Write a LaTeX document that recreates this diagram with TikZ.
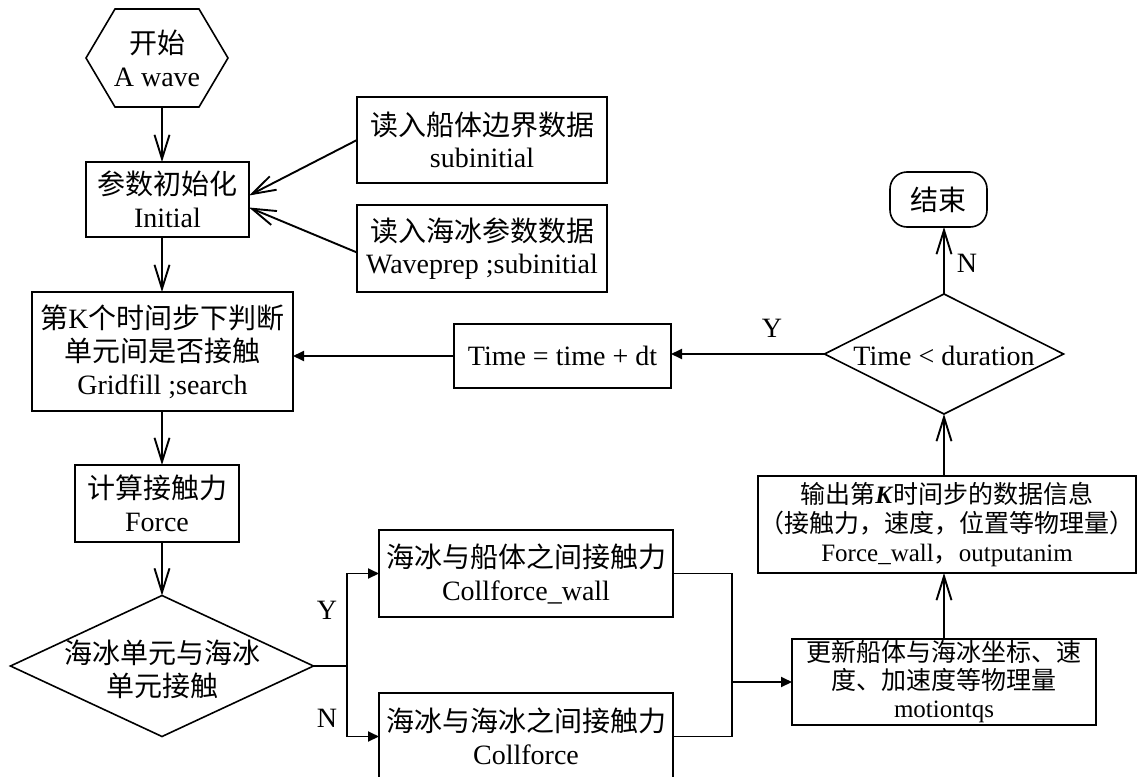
\documentclass[tikz,border=0pt]{standalone}
\usepackage{fontspec}
\setmainfont{Liberation Serif}
\newfontfamily\cjk{Noto Sans CJK SC}
\usetikzlibrary{shapes.geometric,arrows.meta,calc}
\begin{document}
\begin{tikzpicture}[x=1pt,y=-1pt,
  every node/.style={inner sep=0pt, outer sep=0pt},
  box/.style={draw, line width=1.6pt, align=center, font=\fontsize{28}{33}\selectfont},
  txt/.style={align=center, font=\fontsize{28}{33}\selectfont},
  dia/.style={draw, diamond, line width=1.6pt},
  term/.style={draw, line width=1.6pt, rounded corners=17pt, align=center, font=\fontsize{28}{33}\selectfont},
  lab/.style={font=\fontsize{28}{33}\selectfont},
  conn/.style={line width=1.9pt},
  openarr/.style={conn, -{Straight Barb[length=24pt,width=15pt,line width=1.9pt]}},
  fillarr/.style={conn, -{Triangle[length=11pt,width=10pt]}}]
\useasboundingbox (0,0) rectangle (1139,776);

% start hexagon
\node[txt, minimum width=142pt, minimum height=98pt] (start) at (157,58) {{\cjk 开始}\\A wave};
\draw[line width=1.6pt] (start.west) -- ([xshift=29pt]start.north west) -- ([xshift=-29pt]start.north east)
  -- (start.east) -- ([xshift=-29pt]start.south east) -- ([xshift=29pt]start.south west) -- cycle;

\node[box, minimum width=163pt, minimum height=75pt] (init) at (167.5,199.5) {{\cjk 参数初始化}\\Initial};
\node[box, minimum width=250pt, minimum height=86pt, font=\fontsize{28}{32}\selectfont] (sub1) at (482,140) {{\cjk 读入船体边界数据}\\subinitial};
\node[box, minimum width=250pt, minimum height=87pt, font=\fontsize{28}{32}\selectfont] (sub2) at (482,248.5) {{\cjk 读入海冰参数数据}\\Waveprep ;subinitial};
\node[box, minimum width=261pt, minimum height=119pt] (K) at (162.5,351.5) {{\cjk 第}K{\cjk 个时间步下判断}\\{\cjk 单元间是否接触}\\Gridfill ;search};
\node[box, minimum width=164pt, minimum height=77pt] (force) at (157,503.5) {{\cjk 计算接触力}\\Force};

\node[dia, minimum width=303pt, minimum height=141pt] (d1) at (162,666) {};
\node[txt] (d1t) at (162,669) {{\cjk 海冰单元与海冰}\\{\cjk 单元接触}};

\node[box, minimum width=294pt, minimum height=87pt] (cw) at (526,573.5) {{\cjk 海冰与船体之间接触力}\\Collforce\_wall};
\node[box, minimum width=294pt, minimum height=87pt] (cf) at (526,736.5) {{\cjk 海冰与海冰之间接触力}\\Collforce};

\node[box, minimum width=217pt, minimum height=64pt] (time) at (562.5,356) {Time = time + dt};
\node[dia, minimum width=239pt, minimum height=120pt] (d2) at (944,354) {};
\node[txt] (d2t) at (944,356) {Time < duration};
\node[term, minimum width=97pt, minimum height=55pt] (end) at (938.5,199.5) {{\cjk 结束}};

\node[box, minimum width=378pt, minimum height=97pt, font=\fontsize{25}{29}\selectfont] (out) at (947,524.5)
  {{\cjk 输出第}\textbf{\textit{K}}{\cjk 时间步的数据信息}\\{\cjk （接触力，速度，位置等物理量）}\\Force\_wall{\cjk ，}outputanim};
\node[box, minimum width=304pt, minimum height=86pt, font=\fontsize{25}{28}\selectfont] (mot) at (944,682)
  {{\cjk 更新船体与海冰坐标、速}\\{\cjk 度、加速度等物理量}\\motiontqs};

% left column
\draw[openarr] (start.south -| d1) -- (init.north -| d1);
\draw[openarr] (init.south -| d1) -- (K.north -| d1);
\draw[openarr] (K.south -| d1) -- (force.north -| d1);
\draw[openarr] (force.south -| d1) -- (d1.north);

\draw[openarr] (sub1.west) -- ($(init.east)+(0,-4)$);
\draw[openarr] ($(sub2.west)+(0,4)$) -- ($(init.east)+(0,8)$);

% branch
\coordinate (br) at (347,666);
\draw[conn] (d1.east) -- (br);
\draw[fillarr] (br) |- (cw.west);
\draw[fillarr] (br) |- (cf.west);
\node[lab] (ly) at (327,610) {Y};
\node[lab] (ln) at (327,718) {N};

% join
\coordinate (j) at (732,682);
\draw[conn] (cw.east) -| (j);
\draw[conn] (cf.east) -| (j);
\draw[fillarr] (j) -- (mot.west);

% right column
\draw[openarr] (mot.north -| d2) -- (out.south -| d2);
\draw[openarr] (out.north -| d2) -- (d2.south);
\draw[openarr] (d2.north) -- (end.south -| d2);
\node[lab] (ln2) at (967,263) {N};

\draw[fillarr] (d2.west) -- (d2.west -| time.east);
\node[lab] (ly2) at (772,328) {Y};
\draw[fillarr] (time.west) -- (time.west -| K.east);
\end{tikzpicture}
\end{document}
